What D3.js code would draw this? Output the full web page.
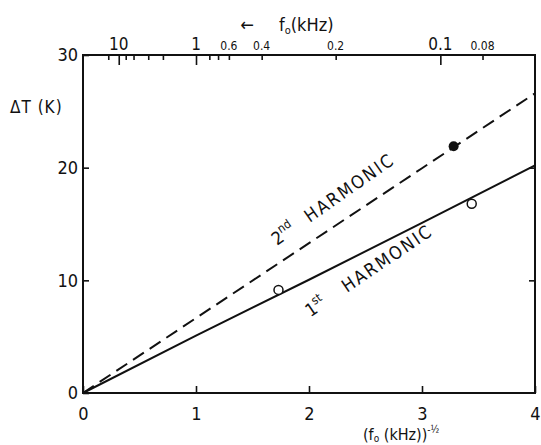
<!DOCTYPE html>
<html>
<head>
<meta charset="utf-8">
<script src="https://cdn.jsdelivr.net/npm/d3@7"></script>
<style>
body { margin: 0; background: #fff; }
text { font-family: "Liberation Sans Narrow", "DejaVu Sans Condensed", "Liberation Sans", sans-serif; fill: #111; }
</style>
</head>
<body>
<script>
// data
var xTicks = [0, 1, 2, 3, 4];
var yTicks = [0, 10, 20, 30];
var yRightTicks = [10, 20];
var fMajor = [10, 1, 0.1];               // kHz, long ticks on top
var fMinor = [20, 7, 5, 3, 2, 0.8, 0.7, 0.6, 0.4, 0.2, 0.08];
var fBigLabels = [10, 1, 0.1];
var fBigText = ["10", "1", "0.1"];
var fSmallLabels = [0.6, 0.4, 0.2, 0.08];
var fSmallText = ["0.6", "0.4", "0.2", "0.08"];

var first = [[0, 0], [1, 5.1], [2, 10.05], [3, 15.1], [4, 20.2]];   // 1st harmonic, solid
var second = [[0, 0], [1, 6.65], [2, 13.3], [3, 19.95], [4, 26.6]]; // 2nd harmonic, dashed
var openPts = [[1.73, 9.15], [3.44, 16.8]];
var filledPts = [[3.28, 21.9]];

var W = 541, H = 445;
var svg = d3.select("body").append("svg").attr("width", W).attr("height", H);

var x = d3.scaleLinear().domain([0, 4]).range([83, 535]);
var y = d3.scaleLinear().domain([0, 30]).range([393, 55]);
// top axis: f0 in kHz, position = f0^-1/2
var fx = d3.scalePow().exponent(-0.5).domain([1, 0.0625]).range([x(1), x(4)]);

function styleAxis(g, fs) {
    g.select(".domain").remove();
    g.selectAll(".tick line").attr("stroke", "#111").attr("stroke-width", 1.6);
    g.selectAll(".tick text").style("font-size", fs + "px").attr("fill", "#111");
}

// left axis
svg.append("g").attr("transform", "translate(" + x(0) + ",0)")
    .call(d3.axisLeft(y).tickValues(yTicks).tickSize(-6).tickPadding(5).tickSizeOuter(0))
    .call(styleAxis, 18);

// right axis (ticks only)
svg.append("g").attr("transform", "translate(" + x(4) + ",0)")
    .call(d3.axisRight(y).tickValues(yRightTicks).tickSize(-6).tickFormat("").tickSizeOuter(0))
    .call(styleAxis, 18);

// bottom axis
svg.append("g").attr("transform", "translate(0," + y(0) + ")")
    .call(d3.axisBottom(x).tickValues(xTicks).tickSize(-7).tickPadding(14).tickSizeOuter(0).tickFormat(d3.format("d")))
    .call(styleAxis, 18);

// top axis
svg.append("g").attr("transform", "translate(0," + y(30) + ")")
    .call(d3.axisTop(fx).tickValues(fMajor).tickSize(-10).tickFormat("").tickSizeOuter(0))
    .call(styleAxis, 17);
svg.append("g").attr("transform", "translate(0," + y(30) + ")")
    .call(d3.axisTop(fx).tickValues(fMinor).tickSize(-5).tickFormat("").tickSizeOuter(0))
    .call(styleAxis, 17);

svg.selectAll(".fbig").data(fBigLabels).enter().append("text")
    .attr("x", function(d){ return fx(d); })
    .attr("y", 50)
    .attr("text-anchor", "middle")
    .style("font-size", "17px")
    .text(function(d, i){ return fBigText[i]; });

svg.selectAll(".fsmall").data(fSmallLabels).enter().append("text")
    .attr("x", function(d){ return fx(d); })
    .attr("y", 50)
    .attr("text-anchor", "middle")
    .style("font-size", "12px")
    .text(function(d, i){ return fSmallText[i]; });

// frame
svg.append("rect")
    .attr("x", x(0)).attr("y", y(30))
    .attr("width", x(4) - x(0)).attr("height", y(0) - y(30))
    .attr("fill", "none").attr("stroke", "#111").attr("stroke-width", 2);

var line = d3.line().x(function(d){ return x(d[0]); }).y(function(d){ return y(d[1]); });

svg.append("path").datum(first).attr("d", line)
    .attr("fill", "none").attr("stroke", "#111").attr("stroke-width", 2);

svg.append("path").datum(second).attr("d", line)
    .attr("fill", "none").attr("stroke", "#111").attr("stroke-width", 2)
    .attr("stroke-dasharray", "13,7");

svg.selectAll(".open").data(openPts).enter().append("circle")
    .attr("cx", function(d){ return x(d[0]); })
    .attr("cy", function(d){ return y(d[1]); })
    .attr("r", 4.5)
    .attr("fill", "#fff").attr("stroke", "#111").attr("stroke-width", 1.5);

svg.selectAll(".filled").data(filledPts).enter().append("circle")
    .attr("cx", function(d){ return x(d[0]); })
    .attr("cy", function(d){ return y(d[1]); })
    .attr("r", 5)
    .attr("fill", "#111");

// titles
svg.append("text").attr("x", 247).attr("y", 31).attr("text-anchor", "middle")
    .style("font-size", "18px").text("\u2190");
var ft = svg.append("text").attr("x", 279).attr("y", 31).style("font-size", "18px");
ft.append("tspan").text("f");
ft.append("tspan").attr("dy", 3).style("font-size", "11px").text("o");
ft.append("tspan").attr("dy", -3).text("(kHz)");

svg.append("text").attr("x", 10).attr("y", 113).style("font-size", "17px")
    .attr("letter-spacing", 1).text("\u0394T (K)");

var xt = svg.append("text").attr("x", 363).attr("y", 440).style("font-size", "16px");
xt.append("tspan").text("(f");
xt.append("tspan").attr("dy", 2).style("font-size", "10px").text("o");
xt.append("tspan").attr("dy", -2).text(" (kHz))");
xt.append("tspan").attr("dy", -7).style("font-size", "10px").text("-\u00bd");

// rotated series labels
var l2 = svg.append("text").attr("transform", "translate(277,246) rotate(-35)").style("font-size", "18px");
l2.append("tspan").attr("x", 0).text("2");
l2.append("tspan").attr("dy", -8).style("font-size", "12px").text("nd");
l2.append("tspan").attr("x", 40).attr("dy", 8).attr("letter-spacing", 2).text("HARMONIC");

var l1 = svg.append("text").attr("transform", "translate(347,293) rotate(-34)").style("font-size", "18px");
l1.append("tspan").attr("x", -44).text("1");
l1.append("tspan").attr("dy", -8).style("font-size", "12px").text("st");
l1.append("tspan").attr("x", 0).attr("dy", 8).attr("letter-spacing", 2).text("HARMONIC");
</script>
</body>
</html>
